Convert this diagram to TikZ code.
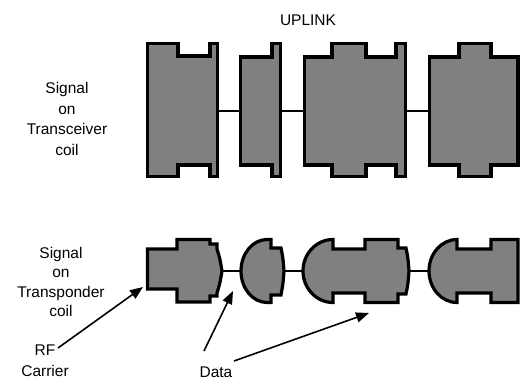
\documentclass[tikz,border=0pt]{standalone}
\usepackage{fontspec}
\setmainfont{Liberation Sans}
\usetikzlibrary{arrows.meta}
\definecolor{burstgray}{HTML}{808080}

\begin{document}
\begin{tikzpicture}[x=1pt, y=-1pt,
    every node/.style={font=\fontsize{15.5}{20.5}\selectfont, align=center, inner sep=0pt},
    burst/.style={draw=black, fill=burstgray, line width=3.2pt},
    wire/.style={line width=2.4pt},
    arr/.style={line width=1.6pt, -{Triangle[length=13pt, width=10pt]}}]
    \useasboundingbox (0,0) rectangle (523,382);

    % labels
    \node (uplink) at (308,20) {UPLINK};
    \node (txlbl) at (67,119) {Signal\\on\\Transceiver\\coil};
    \node[font=\fontsize{15.5}{19.5}\selectfont] (trlbl) at (61,282) {Signal\\on\\Transponder\\coil};
    \node[font=\fontsize{15.5}{21}\selectfont] (rf) at (45,361) {RF\\Carrier};
    \node (data) at (216,372) {Data};

    % transceiver coil
    \draw[wire] (219,111) coordinate (t1r) -- (239,111) coordinate (t2l);
    \draw[wire] (282,111) coordinate (t2r) -- (303,111) coordinate (t3l);
    \draw[wire] (407,111) coordinate (t3r) -- (428,111) coordinate (t4l);
    \draw[burst] (147.5,43.5) -- (178,43.5) -- (178,56) -- (210,56) -- (210,43.5) -- (217.5,43.5)
        -- (217.5,176.5) -- (210,176.5) -- (210,165) -- (178,165) -- (178,176.5) -- (147.5,176.5) -- cycle;
    \draw[burst] (240.5,57) -- (272,57) -- (272,43.5) -- (280.5,43.5) -- (280.5,176.5) -- (272,176.5)
        -- (272,165) -- (240.5,165) -- cycle;
    \draw[burst] (304.5,57) -- (332,57) -- (332,43.5) -- (366,43.5) -- (366,57) -- (396,57) -- (396,43.5)
        -- (405.5,43.5) -- (405.5,176.5) -- (396,176.5) -- (396,165) -- (366,165) -- (366,176.5) -- (332,176.5)
        -- (332,165) -- (304.5,165) -- cycle;
    \draw[burst] (429.5,57) -- (459,57) -- (459,43.5) -- (491,43.5) -- (491,57) -- (518,57) -- (518,165)
        -- (491,165) -- (491,176.5) -- (459,176.5) -- (459,165) -- (429.5,165) -- cycle;

    % transponder coil
    \draw[wire] (222,271) coordinate (b1r) -- (241,271) coordinate (b2l);
    \draw[wire] (284,271) coordinate (b2r) -- (303,271) coordinate (b3l);
    \draw[wire] (409,271) coordinate (b3r) -- (429,271) coordinate (b4l);
    \draw[burst] (147.5,249) -- (177,249) -- (177,239.5) -- (210,239.5) -- (210,244) -- (217,244) -- (217,249)
        .. controls (220,259) .. (222,271) .. controls (220,283) .. (217,293) -- (217,296) -- (210,296)
        -- (210,302) -- (177,302) -- (177,289) -- (147.5,289) -- cycle;
    \draw[burst] (267,239.5) arc[start angle=270, end angle=90, x radius=26, y radius=31.5]
        -- (271,302.5) -- (271,295) -- (281,295) .. controls (283,284) .. (284,271)
        .. controls (283,258) .. (281,248) -- (271,248) -- (271,239.5) -- cycle;
    \draw[burst] (333,239.5) arc[start angle=270, end angle=90, x radius=30, y radius=31.5]
        -- (333,293) -- (365,293) -- (365,302.5) -- (398,302.5) -- (398,294) -- (406,294)
        .. controls (408,284) .. (409,271) .. controls (408,258) .. (406,248) -- (398,248)
        -- (398,239.5) -- (365,239.5) -- (365,249) -- (333,249) -- cycle;
    \draw[burst] (457,239.5) arc[start angle=270, end angle=90, x radius=28, y radius=31.5]
        -- (457,293) -- (491,293) -- (491,302.5) -- (518,302.5) -- (518,239.5) -- (491,239.5)
        -- (491,249) -- (457,249) -- cycle;

    % pointers
    \coordinate (rftail) at (58,348);
    \coordinate (rftip) at (143,287);
    \coordinate (datatail) at (204,351);
    \coordinate (datatip) at (233,291);
    \coordinate (datatail2) at (234,361);
    \coordinate (datatip2) at (369,313);
    \draw[arr] (rftail) -- (rftip);
    \draw[arr] (datatail) -- (datatip);
    \draw[arr] (datatail2) -- (datatip2);
\end{tikzpicture}
\end{document}
